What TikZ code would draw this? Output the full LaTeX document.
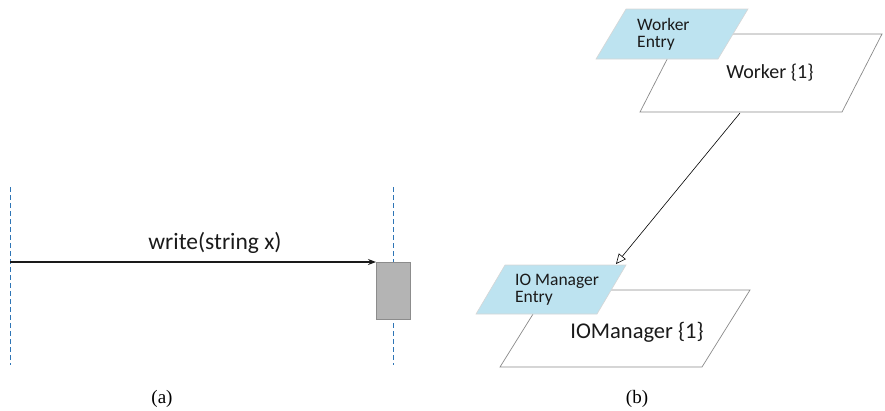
\documentclass[tikz,border=0pt]{standalone}
\usepackage{fontspec}
\setmainfont{Carlito}
\newfontfamily\capfont{Liberation Serif}
\usetikzlibrary{arrows.meta}

\definecolor{lineblue}{HTML}{2E75B6}
\definecolor{boxfill}{HTML}{B4B4B4}
\definecolor{boxgray}{HTML}{8C8C8C}
\definecolor{partgray}{HTML}{8A8A8A}
\definecolor{entryblue}{HTML}{BDE3F0}
\definecolor{entryline}{HTML}{D6D6D6}
\definecolor{textgray}{HTML}{1A1A1A}

\begin{document}
\begin{tikzpicture}[
    x=1pt, y=-1pt,
    lifeline/.style={draw=lineblue, dash pattern=on 5pt off 3pt, line width=0.9pt},
    actbox/.style={draw=boxgray, fill=boxfill, line width=0.7pt, minimum width=34pt, minimum height=57pt, inner sep=0pt},
    partbox/.style={draw=partgray, fill=white, line width=0.7pt},
    entrybox/.style={draw=entryline, fill=entryblue, line width=0.6pt},
    msgarrow/.style={-{Stealth[length=8pt, width=6pt]}, line width=1.1pt, draw=textgray},
    dependarrow/.style={-{Triangle[open, length=10pt, width=9pt, fill=white]}, line width=0.6pt},
    bigtext/.style={font=\fontsize{23}{26}\selectfont, text=textgray, inner sep=0pt},
    entrytext/.style={font=\fontsize{17.5}{17.5}\selectfont, text=textgray, align=left, anchor=west, inner sep=0pt},
    captext/.style={font=\capfont\fontsize{19}{21}\selectfont, inner sep=0pt}
]
\useasboundingbox (0,0) rectangle (885,410);

% (a) sequence part
\draw[lifeline] (10,187) -- (10,365);
\draw[lifeline] (393,187) -- (393,365);
\node[actbox, anchor=north west] (act) at (376,262) {};
\coordinate (caller) at (10,262);
\draw[msgarrow] (caller) -- (act.north west);
\node[bigtext, font=\fontsize{23.5}{26}\selectfont] (msg) at (215,243) {write(string x)};

% (b) deployment part
\draw[partbox] (640,112) -- (842,112) -- (882,34) -- (680,34) -- cycle;
\draw[entrybox] (596,59) -- (718,59) -- (748,9) -- (626,9) -- cycle;
\node[bigtext, font=\fontsize{20}{24}\selectfont] (worker) at (770,73) {Worker \{1\}};
\node[entrytext] (workerentry) at (637,34.5) {Worker\\Entry};

\draw[partbox] (500,367) -- (702,367) -- (750,290) -- (548,290) -- cycle;
\draw[entrybox] (476,314) -- (597,314) -- (626,265) -- (505,265) -- cycle;
\node[bigtext, font=\fontsize{22.5}{26}\selectfont] (iomanager) at (637,332) {IOManager \{1\}};
\node[entrytext] (ioentry) at (515,289.5) {IO Manager\\Entry};

\coordinate (workerout) at (740,113);
\coordinate (ioin) at (616,264);
\draw[dependarrow] (workerout) -- (ioin);

% captions
\node[captext] (capa) at (162,399) {(a)};
\node[captext] (capb) at (637,399) {(b)};
\end{tikzpicture}
\end{document}
